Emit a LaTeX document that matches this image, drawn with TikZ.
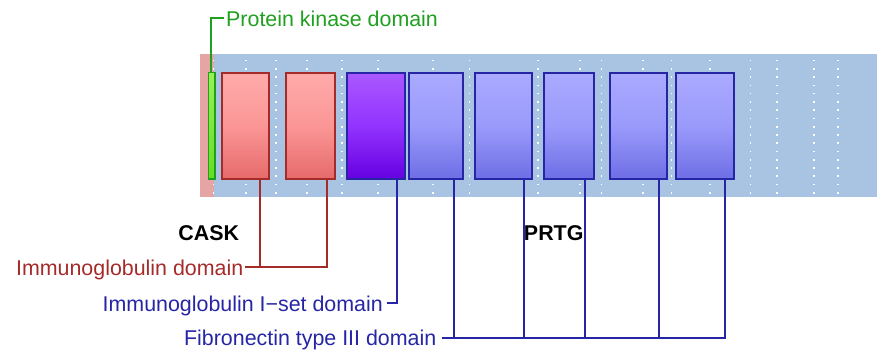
\documentclass[tikz,border=0pt]{standalone}
\usepackage{fontspec}
\setmainfont{Liberation Sans}
\definecolor{bandblue}{HTML}{A9C4E3}
\definecolor{bandpink}{HTML}{E5A5A5}
\definecolor{redline}{HTML}{A52A2A}
\definecolor{blueline}{HTML}{2525A5}
\definecolor{greenline}{HTML}{1FA01F}
\definecolor{redtop}{HTML}{FFAAAA}
\definecolor{redmid}{HTML}{FB9696}
\definecolor{redbot}{HTML}{E66A6A}
\definecolor{purtop}{HTML}{AA58FF}
\definecolor{purmid}{HTML}{9233FF}
\definecolor{purbot}{HTML}{6600E0}
\definecolor{bluetop}{HTML}{AAAAFF}
\definecolor{bluemid}{HTML}{9A9AFB}
\definecolor{bluebot}{HTML}{6E6EE6}
\definecolor{greentop}{HTML}{99F055}
\definecolor{greenbot}{HTML}{66DD22}
\tikzset{
  x=1pt, y=-1pt,
  lbl/.style={font=\fontsize{21.4}{25}\selectfont, inner sep=0pt},
  title/.style={font=\fontsize{21.4}{25}\selectfont\bfseries, inner sep=0pt},
  dombox/.style={inner sep=0pt, minimum height=106pt, anchor=north west},
  redbox/.style={dombox, draw=redline, line width=1.8pt, top color=redtop, bottom color=redbot, middle color=redmid},
  purbox/.style={dombox, draw=blueline, line width=1.8pt, top color=purtop, bottom color=purbot, middle color=purmid},
  bluebox/.style={dombox, draw=blueline, line width=1.8pt, top color=bluetop, bottom color=bluebot, middle color=bluemid},
  greenbox/.style={dombox, draw=greenline, line width=1.5pt, top color=greentop, bottom color=greenbot},
  redlead/.style={draw=redline, line width=2pt},
  bluelead/.style={draw=blueline, line width=2pt},
  greenlead/.style={draw=greenline, line width=2pt},
}
\begin{document}
\begin{tikzpicture}
\useasboundingbox (0,0) rectangle (877,350);
% background band
\fill[bandpink] (200,54) rectangle (214,196.5);
\fill[bandblue] (213.5,54) rectangle (877,196.5);
% dotted white guide lines
\foreach \gx in {213.5,246,276,306.7,342,377.7,432.7,469.5,537.7,580,601.3,643,671.3,709.7,750.3,777,814,837.7}{
  \foreach \k in {0,...,16}{
    \fill[white] ({\gx-0.8},{60.7+8.25*\k-0.8}) rectangle ++(1.6,1.6);
  }
}
% domain boxes
\node[greenbox, minimum width=6.4pt] (pk) at (207.8,72) {};
\node[redbox, minimum width=47pt] (b1) at (220.7,72) {};
\node[redbox, minimum width=49pt] (b2) at (285,72) {};
\node[purbox, minimum width=57.7pt] (b3) at (346,72) {};
\node[bluebox, minimum width=53.7pt] (b4) at (408,72) {};
\node[bluebox, minimum width=56.4pt] (b5) at (474.3,72) {};
\node[bluebox, minimum width=50pt] (b6) at (542.7,72) {};
\node[bluebox, minimum width=57pt] (b7) at (609.3,72) {};
\node[bluebox, minimum width=57.7pt] (b8) at (675,72) {};
% leader feet
\coordinate (ig1) at (260,178);
\coordinate (ig2) at (327,178);
\coordinate (is1) at (397,178);
\coordinate (fn1) at (454,178);
\coordinate (fn2) at (524,178);
\coordinate (fn3) at (585,178);
\coordinate (fn4) at (659,178);
\coordinate (fn5) at (725,178);
\coordinate (pktop) at (211,72);
% labels
\node[lbl, text=greenline, anchor=base west] (pkl) at (226,26.5) {Protein kinase domain};
\node[lbl, text=redline, anchor=base east] (igl) at (243.5,275) {Immunoglobulin domain};
\node[lbl, text=blueline, anchor=base east] (isl) at (383,311) {Immunoglobulin I−set domain};
\node[lbl, text=blueline, anchor=base east] (fnl) at (436.5,345.5) {Fibronectin type III domain};
\node[title, anchor=base] (cask) at (208.7,240) {CASK};
\node[title, anchor=base] (prtg) at (553.7,240) {PRTG};
% leaders
\draw[greenlead] (pktop) |- ([xshift=-2pt]pkl.west |- 0,18);
\draw[redlead] ([xshift=1.5pt]igl.east |- 0,267) -| (ig1);
\draw[redlead] (ig1 |- 0,267) -| (ig2);
\draw[bluelead] ([xshift=3.5pt]isl.east |- 0,303) -| (is1);
\draw[bluelead] ([xshift=5pt]fnl.east |- 0,338) -| (fn1);
\draw[bluelead] (fn1 |- 0,338) -| (fn2);
\draw[bluelead] (fn2 |- 0,338) -| (fn3);
\draw[bluelead] (fn3 |- 0,338) -| (fn4);
\draw[bluelead] (fn4 |- 0,338) -| (fn5);
\end{tikzpicture}
\end{document}
